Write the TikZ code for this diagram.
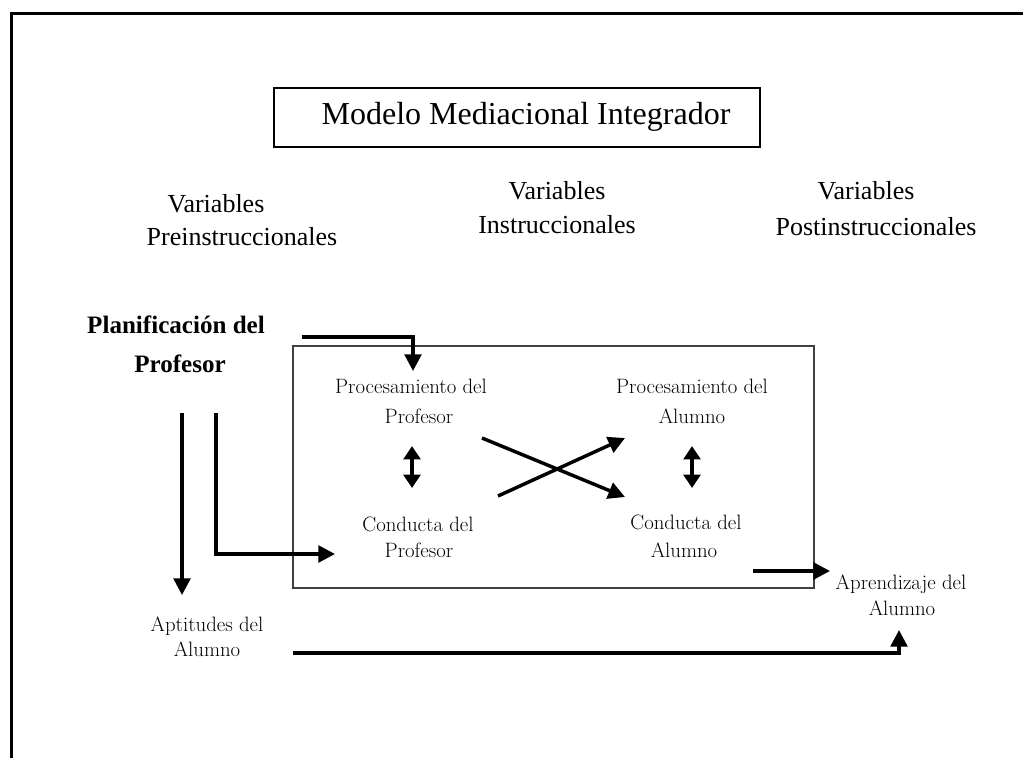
\documentclass[tikz,border=0pt]{standalone}
\usepackage{fontspec}
\newfontfamily\tnr{Liberation Serif}
\usetikzlibrary{arrows.meta}
\begin{document}
\begin{tikzpicture}[x=0.75pt,y=-0.75pt,
  lbl/.style={font=\fontsize{15.6}{18}\selectfont, inner sep=0, anchor=base},
  hd/.style={font=\tnr\fontsize{19.5}{23}\selectfont, inner sep=0, anchor=base},
  bhd/.style={font=\tnr\bfseries\fontsize{18.8}{29}\selectfont, inner sep=0, anchor=base},
  arr/.style={line width=2.6pt, -{Triangle[length=12.5pt,width=12.5pt]}},
  darr/.style={line width=2.6pt, {Triangle[length=10pt,width=12.5pt]}-{Triangle[length=10pt,width=12.5pt]}}]
\useasboundingbox (0,0) rectangle (1023,758);
\fill[white] (0,0) rectangle (1023,758);
% outer frame (cut by the picture edge)
\draw[line width=2.2pt] (11.5,758) -- (11.5,13.5) -- (1023,13.5);
% title
\node[draw, line width=0.9pt, minimum width=364.5pt, minimum height=44.25pt, inner sep=0] (titlebox) at (517,117.5) {};
\node[font=\tnr\fontsize{24}{28}\selectfont, inner sep=0] (title) at (526,117) {Modelo Mediacional Integrador};
% headings
\node[hd] (h1a) at (216,212) {Variables};
\node[hd] (h1b) at (242,245) {Preinstruccionales};
\node[hd] (h2a) at (557,199) {Variables};
\node[hd] (h2b) at (557,233) {Instruccionales};
\node[hd] (h3a) at (866,199) {Variables};
\node[hd] (h3b) at (876,235) {Postinstruccionales};
% planificacion
\node[bhd] (plan1) at (176,333) {Planificación del};
\node[bhd] (plan2) at (180,372) {Profesor};
% inner box
\draw[line width=0.9pt, black!75] (293,346) rectangle (814,588);
% labels
\node[lbl] (pp1) at (411,393) {Procesamiento del};
\node[lbl] (pp2) at (419,423) {Profesor};
\node[lbl] (cp1) at (418,531) {Conducta del};
\node[lbl] (cp2) at (419,557) {Profesor};
\node[lbl] (pa1) at (692,393) {Procesamiento del};
\node[lbl] (pa2) at (692,423) {Alumno};
\node[lbl] (ca1) at (686,529) {Conducta del};
\node[lbl] (ca2) at (684,557) {Alumno};
\node[lbl] (ap1) at (901,589) {Aprendizaje del};
\node[lbl] (ap2) at (902,615) {Alumno};
\node[lbl] (at1) at (207,631) {Aptitudes del};
\node[lbl] (at2) at (207,656) {Alumno};
% connector end points
\coordinate (c1s) at (302,337);
\coordinate (c1e) at (413,371);
\coordinate (c2s) at (182,413);
\coordinate (c2e) at (182,595);
\coordinate (c3s) at (216,413);
\coordinate (c3e) at (335,554);
\coordinate (d1s) at (412,446);
\coordinate (d1e) at (412,488);
\coordinate (d2s) at (692,446);
\coordinate (d2e) at (692,488);
\coordinate (x1s) at (482,438);
\coordinate (x1e) at (625,497);
\coordinate (x2s) at (498,496);
\coordinate (x2e) at (625,438);
\coordinate (c6s) at (753,571);
\coordinate (c6e) at (830,571);
\coordinate (c7s) at (293,653);
\coordinate (c7e) at (899,630);
% connectors
\draw[arr] (c1s) -| (c1e);
\draw[arr] (c2s) -- (c2e);
\draw[arr] (c3s) |- (c3e);
\draw[darr] (d1s) -- (d1e);
\draw[darr] (d2s) -- (d2e);
\draw[arr] (x1s) -- (x1e);
\draw[arr] (x2s) -- (x2e);
\draw[arr] (c6s) -- (c6e);
\draw[arr] (c7s) -| (c7e);
\end{tikzpicture}
\end{document}
